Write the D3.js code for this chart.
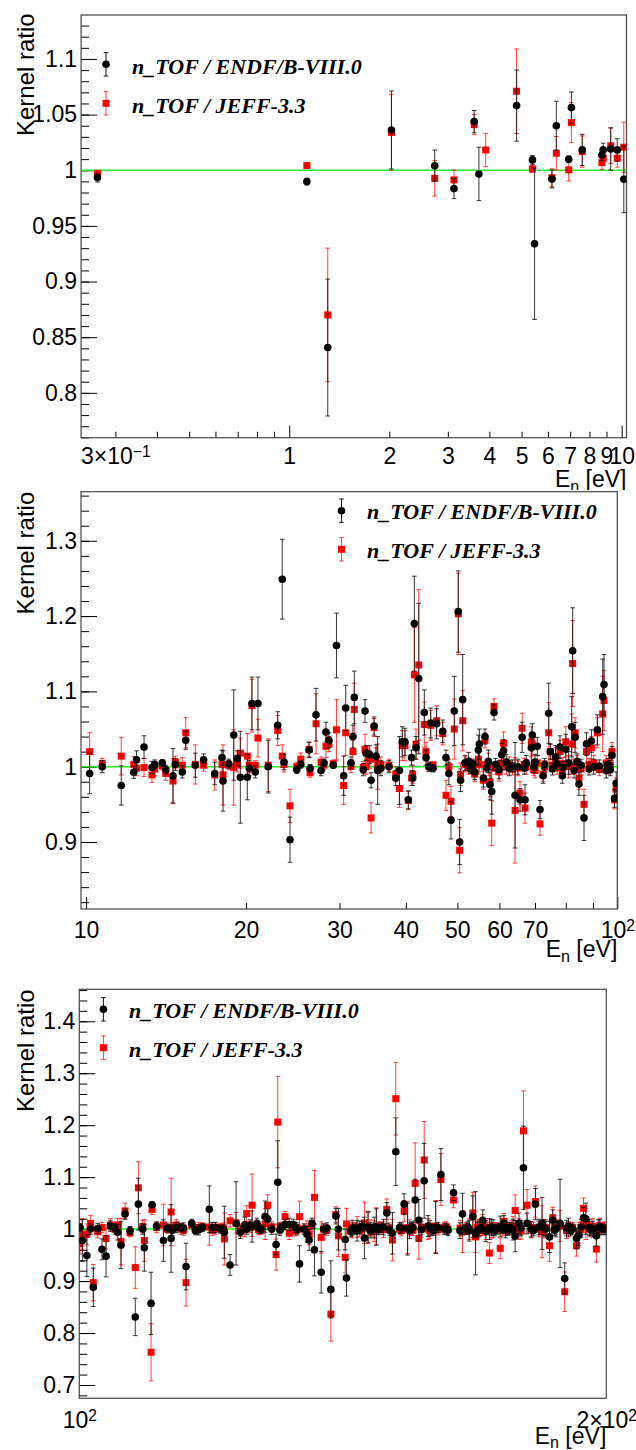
<!DOCTYPE html>
<html>
<head>
<meta charset="utf-8">
<script src="https://cdn.jsdelivr.net/npm/d3@7"></script>
<style>
  html, body { margin: 0; padding: 0; background: #fff; }
  svg { display: block; }
</style>
</head>
<body>
<script>
// ---------------- DATA ----------------
// Panel 1 (0.24 - 10 eV)
const p1Energy  = [0.265, 1.13, 1.306, 2.03, 2.74, 3.13, 3.6, 3.72, 3.9, 4.83, 5.39, 5.47, 6.17, 6.36, 6.93, 7.06, 7.61, 8.72, 8.8, 9.27, 9.7, 10.15];
const p1Endf    = [0.9934, 0.9898, 0.8407, 1.0362, 1.0041, 0.9835, 1.0437, 0.9967, null, 1.0581, 1.0093, 0.934, 0.9922, 1.040, 1.0099, 1.0563, 1.0183, 1.0137, 1.0183, 1.0191, 1.0183, 0.9919];
const p1EndfErr = [0.004, 0.003, 0.0615, 0.035, 0.014, 0.009, 0.01, 0.024, null, 0.032, 0.004, 0.068, 0.008, 0.022, 0.003, 0.014, 0.014, 0.005, 0.006, 0.019, 0.01, 0.03];
const p1Jeff    = [0.997, 1.0042, 0.870, 1.034, 0.9928, 0.9913, 1.041, null, 1.0182, 1.071, 1.0012, null, 0.9933, 1.0153, 1.0003, 1.0428, 1.0168, 1.0068, 1.0108, 1.022, 1.0108, 1.0207];
const p1JeffErr = [0.003, 0.002, 0.06, 0.034, 0.016, 0.009, 0.009, null, 0.015, 0.038, 0.003, null, 0.008, 0.015, 0.01, 0.018, 0.014, 0.006, 0.006, 0.016, 0.008, 0.0225];

// Panel 2 (10 - 100 eV)
const p2Energy  = [10.16,10.73,11.65,12.30,12.45,12.86,13.31,13.47,13.92,14.13,14.58,14.73,15.18,15.41,16.06,16.65,17.47,18.03,18.11,18.56,18.97,19.27,19.52,20.12,20.30,20.53,20.83,21.07,22.03,22.95,23.41,23.59,24.21,24.93,25.37,26.30,26.41,27.10,27.70,28.05,28.29,28.66,29.20,29.61,30.55,30.82,31.53,31.80,31.99,33.26,33.51,33.65,34.20,34.40,34.85,35.15,35.40,35.90,37.18,38.27,38.90,39.38,39.84,40.43,41.00,41.20,41.50,41.80,42.30,43.33,43.65,44.20,44.55,45.00,45.70,46.93,47.60,48.20,48.64,49.34,50.20,50.50,50.70,51.17,51.70,52.50,52.90,53.50,53.90,54.77,55.01,55.97,56.36,56.80,57.20,57.60,58.03,58.61,59.00,59.90,60.60,61.10,61.80,62.60,63.50,64.20,65.00,65.60,66.20,66.80,67.04,67.40,68.90,69.19,69.60,70.00,70.70,71.53,72.50,73.00,74.29,74.80,75.50,76.50,77.00,78.00,78.80,79.00,80.00,81.00,82.07,82.41,82.90,83.30,84.00,84.70,85.50,86.56,87.50,88.50,89.40,90.30,91.71,92.50,93.87,94.41,95.30,96.00,96.50,97.00,97.70,98.80,99.50];
const p2Endf    = [0.991,1.000,0.975,0.9925,1.009,1.026,0.999,1.003,1.005,0.996,0.988,1.003,0.993,1.035,1.002,1.009,0.991,1.012,0.981,1.004,1.042,1.011,0.986,0.986,0.998,1.084,0.993,1.084,1.000,1.055,1.249,1.006,0.903,0.996,1.003,1.022,0.998,1.069,0.995,1.005,1.046,1.035,1.002,1.161,0.988,1.078,1.005,1.040,1.092,0.996,1.074,1.018,1.016,0.982,1.054,1.014,0.995,0.998,1.000,0.985,0.995,1.033,1.033,0.956,1.012,0.985,1.190,1.025,1.117,1.072,1.012,1.000,1.058,0.998,1.057,1.047,1.012,0.991,0.929,1.074,1.206,0.900,0.982,1.089,1.005,1.007,0.997,1.004,0.993,1.022,1.030,0.985,1.040,0.999,1.007,0.976,0.967,1.072,1.003,0.996,1.016,1.021,1.006,0.998,1.001,0.962,1.000,0.956,1.039,0.998,0.956,1.005,1.025,1.042,1.000,1.006,1.027,0.943,0.988,1.003,1.071,1.020,0.997,1.013,1.004,1.026,0.988,0.999,1.023,1.005,1.053,1.154,0.995,1.039,1.007,0.977,1.002,0.932,1.030,0.997,1.034,1.000,1.049,1.001,1.093,1.109,0.995,1.003,1.000,0.996,1.015,0.958,0.978];
const p2EndfErr = [0.027,0.008,0.026,0.008,0.012,0.015,0.008,0.006,0.004,0.006,0.036,0.008,0.008,0.012,0.016,0.008,0.015,0.010,0.040,0.006,0.060,0.010,0.061,0.030,0.010,0.035,0.008,0.035,0.035,0.018,0.053,0.010,0.030,0.005,0.005,0.010,0.005,0.035,0.007,0.005,0.013,0.010,0.004,0.043,0.026,0.030,0.008,0.015,0.035,0.008,0.015,0.010,0.012,0.010,0.012,0.015,0.045,0.010,0.008,0.010,0.045,0.020,0.018,0.012,0.010,0.010,0.063,0.015,0.100,0.030,0.010,0.006,0.020,0.005,0.020,0.015,0.010,0.015,0.025,0.046,0.054,0.030,0.015,0.060,0.010,0.012,0.006,0.006,0.010,0.020,0.020,0.012,0.010,0.006,0.015,0.020,0.030,0.010,0.008,0.012,0.015,0.015,0.010,0.010,0.008,0.070,0.010,0.015,0.020,0.008,0.020,0.010,0.020,0.015,0.008,0.010,0.012,0.012,0.010,0.008,0.040,0.010,0.008,0.015,0.008,0.015,0.010,0.008,0.020,0.015,0.040,0.057,0.010,0.020,0.010,0.015,0.008,0.030,0.015,0.008,0.015,0.010,0.020,0.008,0.050,0.040,0.010,0.008,0.008,0.008,0.012,0.012,0.015];
const p2Jeff    = [1.020,1.004,1.014,1.003,0.998,0.999,0.989,0.997,1.001,0.991,0.981,1.006,1.002,1.045,1.003,1.002,0.989,1.003,0.989,1.002,0.999,1.003,1.018,1.014,1.002,1.081,1.002,1.038,1.002,1.048,1.014,1.003,0.948,1.000,1.010,1.023,0.992,1.057,1.006,1.002,1.027,1.030,1.004,1.049,0.975,1.045,1.000,1.020,1.076,0.999,1.023,1.000,1.010,0.932,1.052,1.010,1.000,1.003,1.002,0.990,0.971,1.028,1.028,0.955,0.985,0.990,1.122,1.030,1.135,1.056,1.020,1.000,1.055,1.002,1.061,1.044,0.962,1.000,0.954,1.050,1.203,0.889,0.990,1.061,1.003,1.000,1.002,0.998,0.990,1.010,1.003,0.982,1.035,1.003,1.003,0.980,0.925,1.080,0.998,0.993,1.005,1.031,1.000,1.003,0.997,0.942,0.998,0.965,1.051,1.003,0.945,1.000,1.033,1.030,0.996,0.995,1.005,0.924,0.990,1.000,1.045,1.020,1.002,1.010,0.998,1.020,0.995,1.004,1.033,1.000,1.030,1.137,1.000,1.045,1.005,0.985,0.997,0.950,1.020,1.003,1.025,1.005,1.045,0.996,1.070,1.088,1.005,0.998,1.000,1.002,1.020,0.956,0.970];
const p2JeffErr = [0.025,0.007,0.025,0.010,0.010,0.012,0.010,0.009,0.005,0.009,0.030,0.008,0.010,0.020,0.026,0.008,0.020,0.010,0.040,0.006,0.050,0.010,0.020,0.030,0.010,0.035,0.006,0.025,0.035,0.020,0.015,0.010,0.022,0.006,0.008,0.010,0.006,0.040,0.007,0.006,0.015,0.010,0.005,0.040,0.025,0.030,0.008,0.015,0.035,0.008,0.020,0.010,0.012,0.020,0.012,0.015,0.030,0.010,0.008,0.010,0.025,0.020,0.020,0.012,0.010,0.012,0.063,0.020,0.100,0.030,0.012,0.006,0.020,0.005,0.020,0.015,0.020,0.010,0.020,0.040,0.054,0.030,0.015,0.040,0.010,0.010,0.006,0.006,0.010,0.020,0.010,0.012,0.010,0.006,0.015,0.020,0.030,0.010,0.008,0.012,0.010,0.015,0.010,0.010,0.008,0.070,0.010,0.015,0.020,0.008,0.020,0.010,0.020,0.015,0.008,0.010,0.010,0.015,0.010,0.008,0.040,0.010,0.008,0.015,0.008,0.015,0.010,0.008,0.020,0.015,0.040,0.057,0.010,0.020,0.010,0.015,0.008,0.020,0.015,0.008,0.015,0.010,0.020,0.008,0.050,0.040,0.010,0.008,0.008,0.008,0.012,0.012,0.015];

// Panel 3 (100 - 200 eV)
const p3Energy  = [100.1,100.4,101.0,101.5,101.86,102.45,103.03,103.58,104.17,104.8,105.18,105.64,106.2,106.9,107.64,108.08,108.7,108.93,109.9,110.04,110.7,111.7,112.3,112.83,113.6,114.3,115.07,115.94,116.5,117.6,118.65,119.6,120.4,121.02,121.93,122.9,123.6,124.3,124.64,125.2,125.52,126.3,127.0,127.68,128.13,128.8,129.54,129.83,130.5,131.08,131.8,132.5,133.6,134.4,134.9,135.3,135.8,136.25,137.46,137.9,139.22,140.14,140.6,141.87,142.1,142.9,143.7,144.6,145.5,146.2,147.0,147.8,148.7,149.85,150.96,151.63,152.4,153.3,154.0,154.8,155.54,156.3,157.4,158.2,159.0,159.8,160.9,161.6,162.4,163.6,165.55,166.3,167.0,167.8,168.4,169.2,170.0,170.7,171.5,172.3,173.2,173.96,174.8,175.7,176.5,177.4,178.3,179.35,180.2,181.2,182.2,183.0,183.8,184.7,185.6,186.4,187.2,188.2,189.35,190.3,191.3,192.3,192.9,194.1,194.7,195.6,196.5,197.4,198.3,199.1,
  143.2,144.1,145.0,146.6,147.4,148.2,149.2,150.4,152.8,154.4,155.1,156.8,158.6,159.4,160.3,162.0,165.0,166.7,168.8,169.6,171.1,171.9,172.7,174.4,175.2,176.1,176.9,178.8,181.7,184.2,186.8,189.8,190.8,193.5,196.0,197.9,199.6,113.0,114.7,117.0,119.1,120.9,126.6,130.2,132.9,133.2,138.5];
const p3Endf    = [1.003,0.978,0.949,1.000,0.888,1.001,0.961,0.948,1.006,1.002,0.994,0.969,1.029,0.997,0.831,1.048,1.000,0.964,0.857,1.047,1.006,0.978,1.002,0.982,1.003,1.003,0.928,1.011,0.997,1.003,1.038,1.003,1.000,0.994,0.931,1.011,0.994,1.008,1.000,1.008,1.005,1.011,1.000,1.024,1.019,1.000,0.9705,1.090,1.003,1.009,1.009,1.009,0.933,1.000,0.990,0.979,1.011,0.960,0.917,1.000,0.884,1.025,1.000,0.980,0.906,0.995,1.000,1.003,0.983,1.004,1.000,1.004,1.003,1.031,0.992,1.149,1.003,1.048,1.000,1.004,1.056,1.017,1.093,1.006,1.000,1.003,1.105,1.000,0.998,1.070,1.029,1.000,0.997,1.024,0.992,1.000,1.017,0.996,1.000,1.003,1.000,1.005,1.011,0.998,1.000,0.9865,1.011,1.118,1.011,1.000,1.048,1.004,1.011,1.000,0.985,1.017,1.000,1.011,0.905,1.006,1.000,0.982,0.988,1.022,1.020,1.003,1.000,0.987,1.004,1.000,
  1.002,0.997,1.005,0.998,1.003,0.999,1.004,0.998,1.002,0.997,1.003,0.999,1.002,0.998,1.003,1.000,0.997,1.004,0.998,1.003,0.999,1.004,0.997,1.002,0.998,1.003,0.999,1.002,0.997,1.003,0.998,1.002,0.997,1.004,0.998,1.003,0.999,0.998,1.002,0.999,1.003,0.998,1.002,0.998,1.003,0.999,1.002];
const p3EndfErr = [0.008,0.040,0.040,0.010,0.037,0.010,0.020,0.040,0.010,0.008,0.015,0.045,0.010,0.008,0.036,0.050,0.010,0.045,0.060,0.005,0.008,0.040,0.008,0.065,0.010,0.008,0.045,0.008,0.008,0.008,0.045,0.010,0.008,0.050,0.020,0.080,0.012,0.015,0.010,0.010,0.030,0.010,0.008,0.030,0.020,0.010,0.020,0.080,0.008,0.010,0.012,0.010,0.035,0.010,0.015,0.020,0.010,0.050,0.040,0.010,0.055,0.015,0.040,0.020,0.035,0.010,0.010,0.012,0.040,0.030,0.010,0.035,0.010,0.020,0.040,0.065,0.010,0.020,0.050,0.010,0.040,0.040,0.072,0.020,0.010,0.050,0.050,0.010,0.010,0.015,0.040,0.010,0.020,0.040,0.080,0.015,0.020,0.020,0.020,0.015,0.010,0.020,0.015,0.010,0.010,0.030,0.020,0.080,0.020,0.015,0.030,0.015,0.050,0.015,0.030,0.020,0.015,0.085,0.030,0.015,0.010,0.020,0.020,0.020,0.030,0.015,0.015,0.020,0.015,0.010,
  0.015,0.020,0.010,0.015,0.020,0.010,0.015,0.010,0.010,0.015,0.010,0.010,0.015,0.010,0.010,0.010,0.015,0.010,0.015,0.010,0.010,0.015,0.010,0.010,0.015,0.010,0.020,0.015,0.010,0.015,0.010,0.015,0.010,0.015,0.010,0.015,0.010,0.010,0.010,0.010,0.010,0.010,0.010,0.010,0.010,0.010,0.010];
const p3Jeff    = [0.972,0.990,0.990,1.011,0.897,0.995,1.003,0.982,1.008,1.000,1.008,0.976,1.035,0.993,0.926,1.0795,1.005,0.978,0.763,1.038,1.003,1.008,1.000,1.033,1.008,1.000,0.897,1.008,1.000,1.004,1.004,1.000,1.003,0.981,1.016,1.012,0.998,1.000,1.030,1.003,1.046,1.004,0.998,1.010,1.046,1.004,0.951,1.206,1.005,1.024,0.992,1.000,1.024,1.000,1.001,0.990,1.006,1.061,0.984,1.000,0.8365,1.028,0.987,0.9455,1.010,1.000,1.003,0.998,1.012,1.002,0.995,1.006,1.000,1.038,0.979,1.251,1.000,1.035,1.003,1.000,1.088,0.982,1.133,1.000,0.998,1.005,1.0955,1.003,1.000,1.056,0.995,1.003,1.000,1.031,0.985,1.003,1.008,1.000,0.954,0.998,1.002,0.963,1.015,1.000,1.006,1.036,1.000,1.189,1.046,0.998,1.053,1.000,0.995,1.003,0.968,1.022,1.004,1.006,0.8795,1.000,1.003,0.968,0.993,1.040,1.010,1.000,1.005,0.9615,1.006,1.003,
  0.998,1.004,1.000,1.003,0.996,1.004,0.999,1.002,0.997,1.003,0.998,1.004,0.997,1.002,0.999,1.004,1.002,0.999,1.004,0.997,1.003,0.998,1.002,0.997,1.003,0.999,1.004,0.996,1.003,0.998,1.004,0.997,1.002,0.999,1.003,0.998,1.004,1.003,0.998,1.003,0.998,1.002,0.999,1.003,0.997,1.002,0.998];
const p3JeffErr = [0.020,0.030,0.020,0.015,0.035,0.012,0.010,0.020,0.012,0.010,0.012,0.045,0.015,0.008,0.040,0.050,0.012,0.040,0.055,0.010,0.010,0.040,0.008,0.065,0.010,0.010,0.045,0.008,0.008,0.008,0.035,0.010,0.008,0.050,0.012,0.020,0.012,0.015,0.015,0.010,0.060,0.010,0.008,0.030,0.020,0.010,0.030,0.088,0.008,0.010,0.012,0.010,0.030,0.010,0.015,0.020,0.010,0.052,0.030,0.010,0.052,0.015,0.040,0.030,0.030,0.010,0.010,0.012,0.040,0.030,0.010,0.035,0.010,0.020,0.040,0.070,0.010,0.020,0.050,0.010,0.078,0.040,0.074,0.020,0.010,0.050,0.050,0.010,0.010,0.015,0.040,0.010,0.020,0.040,0.030,0.015,0.020,0.020,0.020,0.015,0.010,0.020,0.015,0.010,0.010,0.030,0.020,0.077,0.030,0.015,0.030,0.015,0.050,0.015,0.030,0.020,0.015,0.030,0.038,0.015,0.010,0.020,0.020,0.020,0.030,0.015,0.015,0.025,0.015,0.010,
  0.015,0.020,0.010,0.015,0.020,0.010,0.015,0.010,0.010,0.015,0.010,0.010,0.015,0.010,0.010,0.010,0.015,0.010,0.015,0.010,0.010,0.015,0.010,0.010,0.015,0.010,0.020,0.015,0.010,0.015,0.010,0.015,0.010,0.015,0.010,0.015,0.010,0.010,0.010,0.010,0.010,0.010,0.010,0.010,0.010,0.010,0.010];

// Axis ticks and labels
const p1YTicks = [0.8, 0.85, 0.9, 0.95, 1, 1.05, 1.1];
const p1YLabels = ["0.8", "0.85", "0.9", "0.95", "1", "1.05", "1.1"];
const p1XTicks = [0.3, 1, 2, 3, 4, 5, 6, 7, 8, 9, 10];
const p1XLabels = ["3\u00d710^\u22121", "1", "2", "3", "4", "5", "6", "7", "8", "9", "10"];
const p1XMajor = [1, 10];
const p1XMinor = [0.3, 0.4, 0.5, 0.6, 0.7, 0.8, 0.9, 2, 3, 4, 5, 6, 7, 8, 9];

const p2YTicks = [0.9, 1, 1.1, 1.2, 1.3];
const p2YLabels = ["0.9", "1", "1.1", "1.2", "1.3"];
const p2XTicks = [10, 20, 30, 40, 50, 60, 70, 100];
const p2XLabels = ["10", "20", "30", "40", "50", "60", "70", "10^2"];
const p2XMajor = [10, 100];
const p2XMinor = [20, 30, 40, 50, 60, 70, 80, 90];

const p3YTicks = [0.7, 0.8, 0.9, 1, 1.1, 1.2, 1.3, 1.4];
const p3YLabels = ["0.7", "0.8", "0.9", "1", "1.1", "1.2", "1.3", "1.4"];
const p3XTicks = [100, 200];
const p3XLabels = ["10^2", "2\u00d710^2"];
const p3XMajor = [];
const p3XMinor = [];

const seriesNames = ["n_TOF / ENDF/B-VIII.0", "n_TOF / JEFF-3.3"];
const yTitle = "Kernel ratio";

// ---------------- LAYOUT ----------------
const W = 636, H = 1450;
const AXIS_FONT = "'Liberation Sans', Arial, Helvetica, sans-serif";
const LEG_FONT = "'Liberation Serif', 'Times New Roman', serif";

const panels = [
  { canvas: [0, 490], left: 81.1, right: 626.5, top: 15, bottom: 437.7,
    xDomain: [0.2366, 10.34], yDomain: [0.7597, 1.1395], yMinorStep: 0.01,
    xPad: 10, xTitleY: 487, yTitleEnd: 13.3,
    legX: 106, legTextX: 132, legY: [64.3, 103.3], legBase: [73.5, 112.5],
    energy: p1Energy, endf: p1Endf, endfErr: p1EndfErr, jeff: p1Jeff, jeffErr: p1JeffErr,
    yTicks: p1YTicks, yLabels: p1YLabels, xTicks: p1XTicks, xLabels: p1XLabels, xMajor: p1XMajor, xMinor: p1XMinor },
  { canvas: [490, 965], left: 81, right: 617.3, top: 491.7, bottom: 909,
    xDomain: [9.786, 100], yDomain: [0.811, 1.3652], yMinorStep: 0.02,
    xPad: 12.5, xTitleY: 957, yTitleEnd: 491.7,
    legX: 341.5, legTextX: 367, legY: [510.7, 549.3], legBase: [519, 558],
    energy: p2Energy, endf: p2Endf, endfErr: p2EndfErr, jeff: p2Jeff, jeffErr: p2JeffErr,
    yTicks: p2YTicks, yLabels: p2YLabels, xTicks: p2XTicks, xLabels: p2XLabels, xMajor: p2XMajor, xMinor: p2XMinor },
  { canvas: [965, 1450], left: 79.3, right: 606.3, top: 989.3, bottom: 1398.3,
    xDomain: [100, 200], yDomain: [0.6744, 1.4615], yMinorStep: 0.02,
    xPad: 13, xTitleY: 1443.5, yTitleEnd: 989.3,
    legX: 103.4, legTextX: 129, legY: [1009.3, 1047.7], legBase: [1018, 1056.5],
    energy: p3Energy, endf: p3Endf, endfErr: p3EndfErr, jeff: p3Jeff, jeffErr: p3JeffErr,
    yTicks: p3YTicks, yLabels: p3YLabels, xTicks: p3XTicks, xLabels: p3XLabels, xMajor: p3XMajor, xMinor: p3XMinor }
];

const svg = d3.select("body").append("svg")
  .attr("width", W).attr("height", H)
  .attr("viewBox", `0 0 ${W} ${H}`);
svg.append("rect").attr("width", W).attr("height", H).attr("fill", "#fff");
const defs = svg.append("defs");

function writeSup(textSel, label) {
  const parts = label.split("^");
  textSel.text(null);
  textSel.append("tspan").text(parts[0]);
  if (parts.length > 1) {
    textSel.append("tspan").attr("dy", "-0.45em").attr("font-size", "0.68em").text(parts[1]);
  }
}

const BLACK = "#000000", RED = "#ff0000";
const CIRCLE_R = 3.8, SQ = 7.0, CAP = 2.3;

function errPath(x, y1, y2) {
  return `M${x},${y1}V${y2}M${x - CAP},${y1}H${x + CAP}M${x - CAP},${y2}H${x + CAP}`;
}

panels.forEach((p, i) => {
  const x = d3.scaleLog().domain(p.xDomain).range([p.left, p.right]);
  const y = d3.scaleLinear().domain(p.yDomain).range([p.bottom, p.top]);

  defs.append("clipPath").attr("id", "canvas" + i)
    .append("rect").attr("x", 0).attr("y", p.canvas[0]).attr("width", W).attr("height", p.canvas[1] - p.canvas[0]);
  defs.append("clipPath").attr("id", "frame" + i)
    .append("rect").attr("x", p.left).attr("y", p.top).attr("width", p.right - p.left).attr("height", p.bottom - p.top);

  const g = svg.append("g").attr("clip-path", `url(#canvas${i})`);

  // ---- Y axis ----
  const yMinor = d3.range(Math.ceil(p.yDomain[0] / p.yMinorStep - 1e-6), Math.floor(p.yDomain[1] / p.yMinorStep + 1e-6) + 1)
    .map(k => +(k * p.yMinorStep).toFixed(4));
  g.append("g").attr("transform", `translate(${p.left},0)`)
    .call(d3.axisLeft(y).tickValues(yMinor).tickSizeInner(-8).tickSizeOuter(0).tickFormat(""))
    .call(s => s.select(".domain").remove())
    .call(s => s.selectAll("line").attr("stroke", "#000").attr("stroke-width", 1));
  g.append("g").attr("transform", `translate(${p.left},0)`)
    .call(d3.axisLeft(y).tickValues(p.yTicks).tickSizeInner(-16).tickSizeOuter(0).tickPadding(4)
      .tickFormat((d, k) => p.yLabels[k]))
    .call(s => s.select(".domain").remove())
    .call(s => s.selectAll("line").attr("stroke", "#000").attr("stroke-width", 1))
    .call(s => s.selectAll("text").attr("font-family", AXIS_FONT).attr("font-size", 23).attr("fill", "#000"));

  // ---- X axis ----
  const xg = g.append("g").attr("transform", `translate(0,${p.bottom})`);
  xg.append("g").call(d3.axisBottom(x).tickValues(p.xMinor).tickSizeInner(-6).tickSizeOuter(0).tickFormat(""))
    .call(s => s.select(".domain").remove())
    .call(s => s.selectAll("line").attr("stroke", "#000"));
  xg.append("g").call(d3.axisBottom(x).tickValues(p.xMajor).tickSizeInner(-12).tickSizeOuter(0).tickFormat(""))
    .call(s => s.select(".domain").remove())
    .call(s => s.selectAll("line").attr("stroke", "#000"));
  xg.append("g").call(d3.axisBottom(x).tickValues(p.xTicks).tickSize(0).tickPadding(p.xPad)
      .tickFormat((d, k) => p.xLabels[k]))
    .call(s => s.select(".domain").remove())
    .call(s => s.selectAll("text").attr("font-family", AXIS_FONT).attr("font-size", 23).attr("fill", "#000")
      .each(function (d, k) { writeSup(d3.select(this), p.xLabels[k]); }));

  // ---- frame ----
  g.append("rect").attr("x", p.left).attr("y", p.top)
    .attr("width", p.right - p.left).attr("height", p.bottom - p.top)
    .attr("fill", "none").attr("stroke", "#444").attr("stroke-width", 1.2);

  // ---- reference line ----
  g.append("line").attr("x1", p.left).attr("x2", p.right).attr("y1", y(1)).attr("y2", y(1))
    .attr("stroke", "#22ee22").attr("stroke-width", 1.5);

  // ---- data ----
  const dg = g.append("g").attr("clip-path", `url(#frame${i})`);
  const mk = (vals, errs) => p.energy.map((e, k) => ({ e, v: vals[k], err: errs[k] })).filter(d => d.v != null);
  const jeffPts = mk(p.jeff, p.jeffErr);
  const endfPts = mk(p.endf, p.endfErr);

  // JEFF (red squares)
  dg.append("g").selectAll("path").data(jeffPts).join("path")
    .attr("d", d => errPath(x(d.e), y(d.v - d.err), y(d.v + d.err)))
    .attr("stroke", RED).attr("stroke-opacity", 0.75).attr("stroke-width", 1).attr("fill", "none");
  dg.append("g").selectAll("rect").data(jeffPts).join("rect")
    .attr("x", d => x(d.e) - SQ / 2).attr("y", d => y(d.v) - SQ / 2)
    .attr("width", SQ).attr("height", SQ).attr("fill", RED);

  // ENDF (black circles)
  dg.append("g").selectAll("path").data(endfPts).join("path")
    .attr("d", d => errPath(x(d.e), y(d.v - d.err), y(d.v + d.err)))
    .attr("stroke", "#111").attr("stroke-opacity", 0.85).attr("stroke-width", 1).attr("fill", "none");
  dg.append("g").selectAll("circle").data(endfPts).join("circle")
    .attr("cx", d => x(d.e)).attr("cy", d => y(d.v)).attr("r", CIRCLE_R).attr("fill", BLACK);

  // ---- legend ----
  const lg = g.append("g");
  lg.append("path").attr("d", errPath(p.legX, p.legY[0] - 11.7, p.legY[0] + 11.7))
    .attr("stroke", "#111").attr("stroke-width", 1).attr("fill", "none");
  lg.append("circle").attr("cx", p.legX).attr("cy", p.legY[0]).attr("r", CIRCLE_R).attr("fill", BLACK);
  lg.append("text").attr("x", p.legTextX).attr("y", p.legBase[0])
    .attr("font-family", LEG_FONT).attr("font-weight", "bold").attr("font-style", "italic")
    .attr("font-size", 22).attr("fill", "#000").text(seriesNames[0]);
  lg.append("path").attr("d", errPath(p.legX, p.legY[1] - 11.7, p.legY[1] + 11.7))
    .attr("stroke", RED).attr("stroke-opacity", 0.75).attr("stroke-width", 1).attr("fill", "none");
  lg.append("rect").attr("x", p.legX - SQ / 2).attr("y", p.legY[1] - SQ / 2)
    .attr("width", SQ).attr("height", SQ).attr("fill", RED);
  lg.append("text").attr("x", p.legTextX).attr("y", p.legBase[1])
    .attr("font-family", LEG_FONT).attr("font-weight", "bold").attr("font-style", "italic")
    .attr("font-size", 22).attr("fill", "#000").text(seriesNames[1]);

  // ---- axis titles ----
  g.append("text").attr("transform", `translate(34,${p.yTitleEnd}) rotate(-90)`)
    .attr("text-anchor", "end").attr("font-family", AXIS_FONT).attr("font-size", 24).attr("fill", "#000")
    .text(yTitle);

  const xt = g.append("text").attr("x", p.right).attr("y", p.xTitleY).attr("text-anchor", "end")
    .attr("font-family", AXIS_FONT).attr("font-size", 23).attr("fill", "#000");
  xt.append("tspan").text("E");
  xt.append("tspan").attr("font-size", "0.7em").attr("dy", "0.3em").text("n");
  xt.append("tspan").attr("dy", "-0.21em").text(" [eV]");
});
</script>
</body>
</html>
